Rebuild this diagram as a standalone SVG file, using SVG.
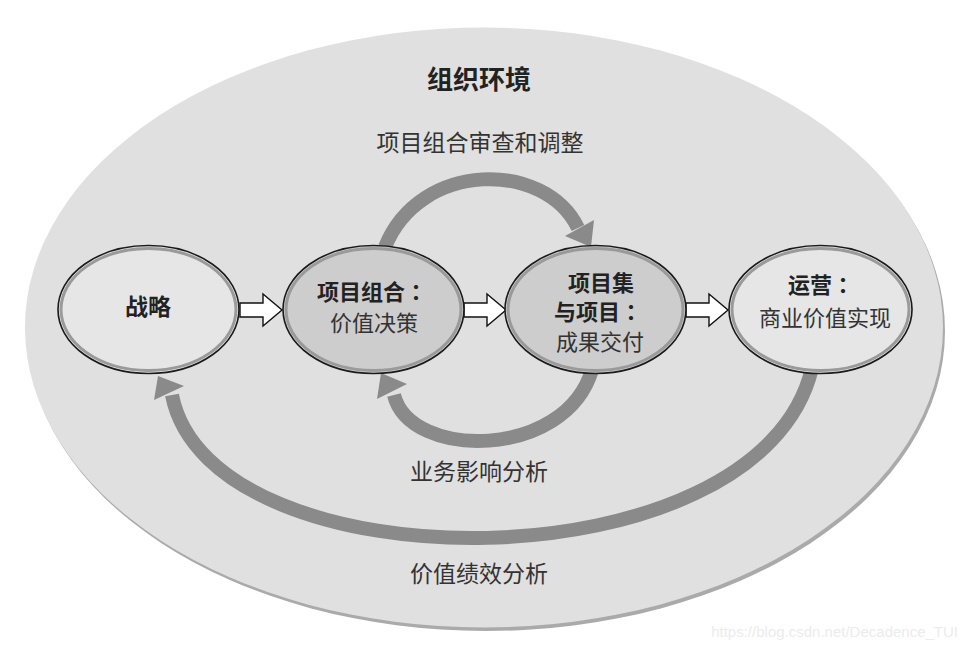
<svg xmlns="http://www.w3.org/2000/svg" width="968" height="650" viewBox="0 0 968 650">
<style>
.t{font-family:"Noto Sans CJK SC","Noto Sans",sans-serif;font-size:23px;fill:#222;text-anchor:middle}
.s{font-size:22px}
.b{font-weight:bold}
.n{fill:#333}
.c{font-family:"Noto Sans CJK JP","Noto Sans CJK SC",sans-serif}
.node{stroke:#1a1a1a;stroke-width:1.6}
.ring{fill:none;stroke:#9a9a9a;stroke-width:3}
.light{fill:#e6e6e6}
.dark{fill:#cdcdcd}
.arc{fill:none;stroke:#8a8a8a;stroke-width:14}
.head{fill:#8a8a8a}
.blk{fill:#fff;stroke:#111;stroke-width:1.4;stroke-linejoin:miter}
</style>
<rect width="968" height="650" fill="#fff"/>
<g id="env">
<ellipse cx="486" cy="331" rx="459" ry="300" fill="#aaaaaa"/>
<ellipse cx="484" cy="327.5" rx="459" ry="300" fill="#e0e0e0"/>
<text class="t b" x="479" y="89" style="font-size:26px">组织环境</text>
</g>
<g id="connectors">
<path class="arc" d="M 385 247 C 420 160, 545 160, 578 228"/>
<polygon class="head" points="591,247 565,236 594,220"/>
<path class="arc" d="M 592 370 C 565 460, 410 460, 394 395"/>
<polygon class="head" points="381,373 377,399 407,384"/>
<path class="arc" d="M 812 368 C 760 590, 210 590, 172 395"/>
<polygon class="head" points="158,376 154,400 184,386"/>
<polygon class="blk" points="240,303 263,303 263,294 282,310 263,326 263,317 240,317"/>
<polygon class="blk" points="464,303 487,303 487,294 506,310 487,326 487,317 464,317"/>
<polygon class="blk" points="686,303 709,303 709,294 728,310 709,326 709,317 686,317"/>
</g>
<g id="n1">
<ellipse class="node light" cx="148.5" cy="309.5" rx="90.5" ry="64"/>
<ellipse class="ring" cx="148.5" cy="309.5" rx="87.5" ry="61"/>
<text class="t b" x="148" y="315">战略</text>
</g>
<g id="n2">
<ellipse class="node dark" cx="373.5" cy="309.5" rx="90.5" ry="64"/>
<ellipse class="ring" cx="373.5" cy="309.5" rx="87.5" ry="61"/>
<text class="t s b" x="372" y="300">项目组合<tspan class="c">：</tspan></text>
<text class="t s n" x="374" y="331">价值决策</text>
</g>
<g id="n3">
<ellipse class="node dark" cx="595.5" cy="309.5" rx="90.5" ry="64"/>
<ellipse class="ring" cx="595.5" cy="309.5" rx="87.5" ry="61"/>
<text class="t s b" x="601" y="291">项目集</text>
<text class="t s b" x="598" y="320">与项目<tspan class="c">：</tspan></text>
<text class="t s n" x="600" y="350">成果交付</text>
</g>
<g id="n4">
<ellipse class="node light" cx="820.5" cy="309.5" rx="91.5" ry="64"/>
<ellipse class="ring" cx="820.5" cy="309.5" rx="88.5" ry="61"/>
<text class="t s b" x="821" y="293">运营<tspan class="c">：</tspan></text>
<text class="t s n" x="825" y="326">商业价值实现</text>
</g>
<g id="labels">
<text class="t n" x="480" y="151">项目组合审查和调整</text>
<text class="t n" x="479" y="480">业务影响分析</text>
<text class="t n" x="479" y="582">价值绩效分析</text>
</g>
<text x="958" y="637" style="font-family:'Liberation Sans',sans-serif;font-size:15px;fill:#ececec;text-anchor:end">https://blog.csdn.net/Decadence_TUI</text>
</svg>
